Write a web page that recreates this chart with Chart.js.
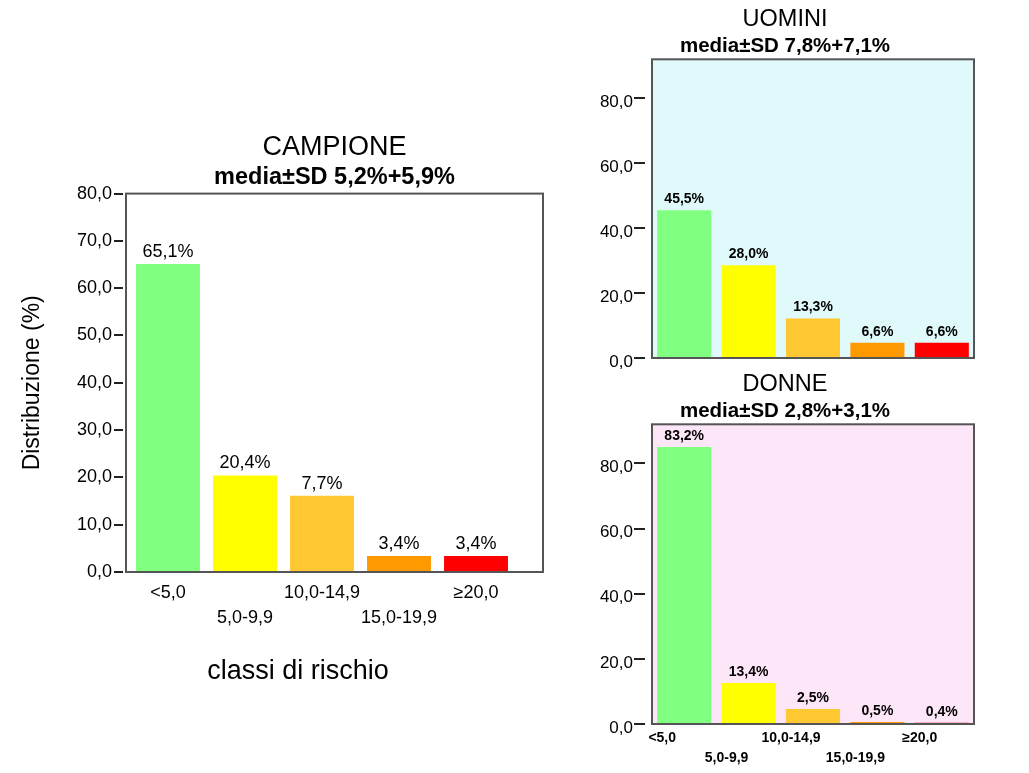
<!DOCTYPE html>
<html>
<head>
<meta charset="utf-8">
<script src="https://cdn.jsdelivr.net/npm/chart.js@4.4.1/dist/chart.umd.min.js"></script>
<style>
  html, body { margin: 0; background: #fff; width: 1029px; height: 773px; overflow: hidden; }
  canvas { position: absolute; }
  #campione { left: 0; top: 120px; }
  #uomini { left: 580px; top: 0; }
  #donne { left: 580px; top: 365px; }
</style>
</head>
<body>
<canvas id="campione" width="560" height="590"></canvas>
<canvas id="uomini" width="420" height="375"></canvas>
<canvas id="donne" width="420" height="408"></canvas>
<script>
// classi di rischio (%)
const categories = ['<5,0', '5,0-9,9', '10,0-14,9', '15,0-19,9', '≥20,0'];
const barColors = ['#80ff80', '#ffff00', '#ffc833', '#ff9900', '#ff0000'];

// bar heights as drawn, and the printed labels
const campioneValues = [65.1, 20.4, 16.1, 3.4, 3.4];
const campioneLabels = ['65,1%', '20,4%', '7,7%', '3,4%', '3,4%'];

const uominiValues = [45.5, 28.6, 12.2, 4.7, 4.7];
const uominiLabels = ['45,5%', '28,0%', '13,3%', '6,6%', '6,6%'];

const donneValues = [85.0, 12.6, 4.6, 0.6, 0.4];
const donneLabels = ['83,2%', '13,4%', '2,5%', '0,5%', '0,4%'];

Chart.defaults.font.family = '"Liberation Sans", Arial, sans-serif';
Chart.defaults.color = '#000';

// plot background + frame
const framePlugin = {
  id: 'frame',
  beforeDatasetsDraw(chart, args, opts) {
    const { ctx, chartArea: a } = chart;
    if (opts.fill) {
      ctx.save();
      ctx.fillStyle = opts.fill;
      ctx.fillRect(a.left, a.top, a.width, a.height);
      ctx.restore();
    }
  },
  afterDatasetsDraw(chart) {
    const { ctx, chartArea: a } = chart;
    ctx.save();
    ctx.strokeStyle = '#555';
    ctx.lineWidth = 2;
    ctx.strokeRect(a.left, a.top, a.width, a.height);
    ctx.restore();
  },
};

// percentage text over every bar
const barLabelPlugin = {
  id: 'barLabels',
  afterDatasetsDraw(chart, args, opts) {
    const { ctx } = chart;
    const meta = chart.getDatasetMeta(0);
    ctx.save();
    ctx.font = opts.font;
    ctx.fillStyle = '#000';
    ctx.textAlign = 'center';
    ctx.textBaseline = 'middle';
    meta.data.forEach((bar, i) => {
      ctx.fillText(opts.texts[i], bar.x, bar.y - opts.gap);
    });
    ctx.restore();
  },
};

// free-standing axis caption (not centred on the plot in the original)
const captionPlugin = {
  id: 'caption',
  afterDraw(chart, args, opts) {
    if (!opts.text) return;
    const { ctx, chartArea: a } = chart;
    ctx.save();
    ctx.font = opts.font;
    ctx.fillStyle = '#000';
    ctx.textAlign = 'center';
    ctx.textBaseline = 'middle';
    ctx.fillText(opts.text, a.left + opts.dx, a.bottom + opts.dy);
    ctx.restore();
  },
};

const fmt = (v) => v.toFixed(1).replace('.', ',');

function makeChart(id, o) {
  const ctx = document.getElementById(id).getContext('2d');
  return new Chart(ctx, {
    type: 'bar',
    data: {
      datasets: [{
        data: o.values.map((v, i) => ({ x: i, y: v })),
        backgroundColor: barColors,
        borderWidth: 0,
        barPercentage: o.barPct,
        categoryPercentage: 1,
      }],
    },
    plugins: [framePlugin, barLabelPlugin, captionPlugin],
    options: {
      responsive: false,
      animation: false,
      layout: { padding: o.pad },
      scales: {
        x: {
          type: 'linear',
          bounds: 'data',
          offset: false,
          min: o.xMin,
          max: o.xMax,
          grid: { display: false },
          border: { display: false },
          afterBuildTicks: (s) => { s.ticks = categories.map((c, i) => ({ value: i })); },
          afterFit: (s) => { s.height = o.xHeight; },
          ticks: {
            display: o.showX,
            autoSkip: false,
            maxRotation: 0,
            padding: o.xPad,
            labelOffset: o.xShift,
            font: o.xFont,
            callback: (v) => (v % 2 ? ['', categories[v]] : [categories[v]]),
          },
        },
        y: {
          min: 0,
          max: o.yMax,
          border: { display: false },
          grid: {
            drawOnChartArea: false,
            drawTicks: true,
            tickLength: o.tickLen,
            tickBorderDash: o.tickDash,
            tickColor: '#222',
            lineWidth: 2,
          },
          afterFit: (s) => { s.width = o.yWidth; },
          ticks: {
            stepSize: o.yStep,
            includeBounds: false,
            padding: o.yPad,
            labelOffset: o.yShift,
            font: { size: o.yFontSize },
            callback: fmt,
          },
          title: o.yTitle
            ? { display: true, text: o.yTitle, font: { size: 23 }, padding: { top: 19, bottom: 0 } }
            : { display: false },
        },
      },
      plugins: {
        legend: { display: false },
        tooltip: { enabled: false },
        title: {
          display: true,
          text: o.title,
          fullSize: o.fullSize,
          font: { size: o.titleSize, weight: 'normal' },
          padding: o.titlePad,
        },
        subtitle: {
          display: true,
          text: o.subtitle,
          fullSize: o.fullSize,
          color: '#000',
          font: { size: o.subSize, weight: 'bold' },
          padding: o.subPad,
        },
        frame: { fill: o.bg },
        barLabels: { texts: o.labels, font: o.labelFont, gap: o.gap },
        caption: o.caption || {},
      },
    },
  });
}

makeChart('campione', {
  values: campioneValues, labels: campioneLabels,
  title: 'CAMPIONE', subtitle: 'media±SD 5,2%+5,9%',
  titleSize: 27, subSize: 23.5, fullSize: false,
  titlePad: { top: 11, bottom: 0 }, subPad: { top: 0, bottom: 2 },
  pad: { left: 0, right: 17, top: 0, bottom: 0 },
  yWidth: 126, xHeight: 138,
  yMax: 80, yStep: 10, yFontSize: 18, tickLen: 12, tickDash: [9, 3], yPad: 2, yShift: 0,
  yTitle: 'Distribuzione (%)',
  xMin: -0.545, xMax: 4.87, barPct: 0.83,
  showX: true, xPad: 1, xShift: 0, xFont: { size: 18, lineHeight: 1.39 },
  labelFont: '18px "Liberation Sans", Arial, sans-serif', gap: 12,
  bg: null,
  caption: { text: 'classi di rischio', font: '27px "Liberation Sans", Arial, sans-serif', dx: 172, dy: 100 },
});

makeChart('uomini', {
  values: uominiValues, labels: uominiLabels,
  title: 'UOMINI', subtitle: 'media±SD 7,8%+7,1%',
  titleSize: 23.5, subSize: 20.5, fullSize: true,
  titlePad: { top: 5, bottom: 0 }, subPad: { top: 0.5, bottom: 1 },
  pad: { left: 16, right: 26, top: 0, bottom: 0 },
  yWidth: 56, xHeight: 17,
  yMax: 92, yStep: 20, yFontSize: 17, tickLen: 18, tickDash: [11, 7], yPad: 1, yShift: 4,
  yTitle: null,
  xMin: -0.5, xMax: 4.5, barPct: 0.84,
  showX: false, xPad: 0, xShift: 0, xFont: { size: 14 },
  labelFont: 'bold 14px "Liberation Sans", Arial, sans-serif', gap: 11,
  bg: '#e0fafc',
});

makeChart('donne', {
  values: donneValues, labels: donneLabels,
  title: 'DONNE', subtitle: 'media±SD 2,8%+3,1%',
  titleSize: 23.5, subSize: 20.5, fullSize: true,
  titlePad: { top: 5, bottom: 0 }, subPad: { top: 0.5, bottom: 1 },
  pad: { left: 16, right: 26, top: 0, bottom: 0 },
  yWidth: 56, xHeight: 49,
  yMax: 92, yStep: 20, yFontSize: 17, tickLen: 18, tickDash: [11, 7], yPad: 1, yShift: 4,
  yTitle: null,
  xMin: -0.5, xMax: 4.5, barPct: 0.84,
  showX: true, xPad: -4, xShift: -22, xFont: { size: 14, weight: 'bold', lineHeight: 1.43 },
  labelFont: 'bold 14px "Liberation Sans", Arial, sans-serif', gap: 11,
  bg: '#fde6f8',
});
</script>
</body>
</html>
